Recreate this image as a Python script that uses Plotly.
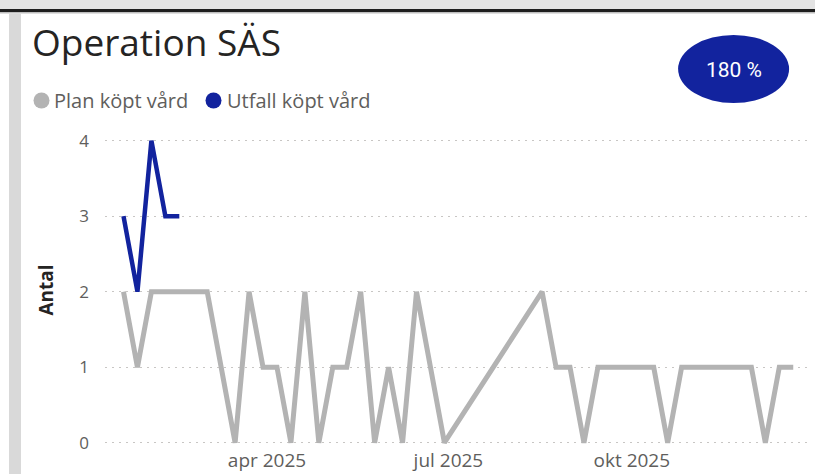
import plotly.graph_objects as go
import pandas as pd

# ---------------- data ----------------
plan_dates = [
    "2025-01-19", "2025-01-26", "2025-02-02", "2025-02-09", "2025-02-16", "2025-02-23",
    "2025-03-02", "2025-03-16", "2025-03-23", "2025-03-30", "2025-04-06", "2025-04-13",
    "2025-04-20", "2025-04-27", "2025-05-04", "2025-05-11", "2025-05-18", "2025-05-25",
    "2025-06-01", "2025-06-08", "2025-06-15", "2025-06-29", "2025-08-17", "2025-08-24",
    "2025-08-31", "2025-09-07", "2025-09-14", "2025-09-21", "2025-09-28", "2025-10-05",
    "2025-10-12", "2025-10-19", "2025-10-26", "2025-11-02", "2025-11-09", "2025-11-16",
    "2025-11-23", "2025-11-30", "2025-12-07", "2025-12-14", "2025-12-21",
]
plan_values = [
    2, 1, 2, 2, 2, 2,
    2, 0, 2, 1, 1, 0,
    2, 0, 1, 1, 2, 0,
    1, 0, 2, 0, 2, 1,
    1, 0, 1, 1, 1, 1,
    1, 0, 1, 1, 1, 1,
    1, 1, 0, 1, 1,
]
utfall_dates = ["2025-01-19", "2025-01-26", "2025-02-02", "2025-02-09", "2025-02-16"]
utfall_values = [3, 2, 4, 3, 3]

x_tick_vals = ["2025-04-01", "2025-07-01", "2025-10-01"]
x_tick_text = ["apr 2025", "jul 2025", "okt 2025"]
y_tick_vals = [0, 1, 2, 3, 4]

title_text = "Operation SÄS"
series_names = ["Plan köpt vård", "Utfall köpt vård"]
badge_text = "180 %"
y_title = "Antal"

# ---------------- layout geometry (pixels) ----------------
W, H = 815, 474
PL, PR, PT, PB = 105, 807, 129, 447
GRAY = "#B3B3B3"
BLUE = "#12239E"
TICK_COL = "#605E5C"


def px(x):
    return (x - PL) / (PR - PL)


def py(y):
    return (PB - y) / (PB - PT)


# y scale: value 4 at pixel 140.7, value 0 at pixel 442.7
ppu = (442.7 - 140.7) / 4.0
y_range = [-(PB - 442.7) / ppu, 4 + (140.7 - PT) / ppu]

start = pd.Timestamp("2025-01-19")
x_range = [start - pd.Timedelta(days=9.28), start + pd.Timedelta(days=342.9)]

fig = go.Figure()
fig.add_trace(go.Scatter(
    x=plan_dates, y=plan_values, mode="lines", name=series_names[0],
    line=dict(color=GRAY, width=5), showlegend=False,
))
fig.add_trace(go.Scatter(
    x=utfall_dates, y=utfall_values, mode="lines", name=series_names[1],
    line=dict(color=BLUE, width=4.5), showlegend=False,
))

shapes = [
    # top strip
    dict(type="rect", xref="paper", yref="paper", x0=px(0), x1=px(W), y0=py(0), y1=py(9),
         fillcolor="#E3E3E3", line=dict(width=0), layer="below"),
    dict(type="rect", xref="paper", yref="paper", x0=px(0), x1=px(W), y0=py(9), y1=py(12),
         fillcolor="#1E1E1E", line=dict(width=0), layer="below"),
    dict(type="rect", xref="paper", yref="paper", x0=px(0), x1=px(W), y0=py(12), y1=py(13.5),
         fillcolor="#BDBDBD", line=dict(width=0), layer="below"),
    # left bar
    dict(type="rect", xref="paper", yref="paper", x0=px(9), x1=px(21), y0=py(13.5), y1=py(H),
         fillcolor="#D9D9D9", line=dict(width=0), layer="below"),
    # badge ellipse
    dict(type="circle", xref="paper", yref="paper", xsizemode="pixel", ysizemode="pixel",
         xanchor=px(733.6), yanchor=py(69), x0=-55.5, x1=55.5, y0=-34, y1=34,
         fillcolor=BLUE, line=dict(width=0)),
    # legend markers
    dict(type="circle", xref="paper", yref="paper", xsizemode="pixel", ysizemode="pixel",
         xanchor=px(41.5), yanchor=py(100.5), x0=-8, x1=8, y0=-8, y1=8,
         fillcolor=GRAY, line=dict(width=0)),
    dict(type="circle", xref="paper", yref="paper", xsizemode="pixel", ysizemode="pixel",
         xanchor=px(213.5), yanchor=py(100.5), x0=-8, x1=8, y0=-8, y1=8,
         fillcolor=BLUE, line=dict(width=0)),
]

annotations = [
    dict(text=title_text, xref="paper", yref="paper", x=px(29.5), y=py(42),
         xanchor="left", yanchor="middle", showarrow=False,
         font=dict(family="Open Sans", size=37, color="#252423")),
    dict(text=series_names[0], xref="paper", yref="paper", x=px(51.5), y=py(100.5),
         xanchor="left", yanchor="middle", showarrow=False,
         font=dict(family="Open Sans", size=20, color=TICK_COL)),
    dict(text=series_names[1], xref="paper", yref="paper", x=px(224.5), y=py(100.5),
         xanchor="left", yanchor="middle", showarrow=False,
         font=dict(family="Open Sans", size=20, color=TICK_COL)),
    dict(text=badge_text, xref="paper", yref="paper", x=px(733.6), y=py(70),
         xanchor="center", yanchor="middle", showarrow=False,
         font=dict(family="Roboto", size=21, color="white")),
    dict(text="<b>" + y_title + "</b>", xref="paper", yref="paper", x=px(45), y=py(290.5),
         xanchor="center", yanchor="middle", showarrow=False, textangle=-90,
         font=dict(family="Open Sans", size=19, color="#252423")),
]

fig.update_layout(
    width=W, height=H,
    margin=dict(l=PL, r=W - PR, t=PT, b=H - PB, pad=0),
    paper_bgcolor="white", plot_bgcolor="white",
    shapes=shapes, annotations=annotations,
    showlegend=False,
    xaxis=dict(
        type="date", range=x_range, showgrid=False, zeroline=False, showline=False,
        tickmode="array", tickvals=x_tick_vals, ticktext=x_tick_text, ticks="",
        tickfont=dict(family="Open Sans", size=19, color=TICK_COL),
        ticklabelstandoff=0, automargin=False,
    ),
    yaxis=dict(
        range=y_range, showgrid=True, gridcolor="#C8C6C4", gridwidth=1.3,
        griddash="2px,5px", zeroline=False, showline=False,
        tickmode="array", tickvals=y_tick_vals, ticks="",
        tickfont=dict(family="Open Sans", size=17, color=TICK_COL),
        ticklabelstandoff=15, automargin=False,
    ),
)

fig.write_html(
    "out.html",
    config={"displayModeBar": False},
    post_script="document.body.style.margin='0';document.body.style.overflow='hidden';",
)
